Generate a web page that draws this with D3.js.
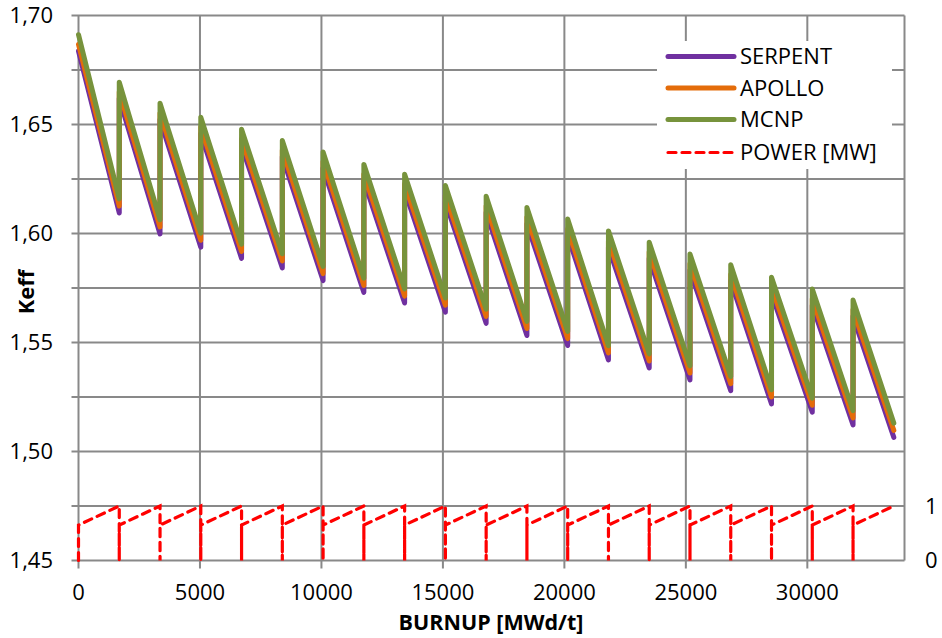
<!DOCTYPE html>
<html>
<head>
<meta charset="utf-8">
<script src="https://cdn.jsdelivr.net/npm/d3@7"></script>
<style>
  html, body { margin: 0; padding: 0; background: #fff; }
  svg { display: block; font-family: "Open Sans", "Noto Sans", sans-serif; }
</style>
</head>
<body>
<svg id="chart" width="942" height="638"></svg>
<script>
// Burnup at each cycle boundary (MWd/t)
const cycleEdges = [0, 1678, 3356, 5034, 6712, 8390, 10068, 11746, 13424, 15102,
  16780, 18458, 20136, 21814, 23492, 25170, 26848, 28526, 30204, 31882, 33560];

// Keff at beginning (BOC) and end (EOC) of each cycle
const serpentBOC = [1.6837, 1.6619, 1.6522, 1.6458, 1.6403, 1.6352, 1.6299, 1.6242, 1.6197, 1.6145,
  1.6096, 1.6044, 1.5991, 1.5937, 1.5885, 1.5831, 1.5782, 1.5724, 1.5670, 1.5620];
const serpentEOC = [1.6094, 1.5998, 1.5937, 1.5886, 1.5842, 1.5784, 1.5730, 1.5681, 1.5639, 1.5588,
  1.5532, 1.5486, 1.5420, 1.5383, 1.5328, 1.5279, 1.5218, 1.5180, 1.5122, 1.5065];
const apolloBOC = [1.6867, 1.6649, 1.6552, 1.6488, 1.6433, 1.6382, 1.6329, 1.6272, 1.6227, 1.6175,
  1.6126, 1.6074, 1.6021, 1.5967, 1.5915, 1.5861, 1.5812, 1.5754, 1.5700, 1.5650];
const apolloEOC = [1.6126, 1.6030, 1.5969, 1.5918, 1.5874, 1.5816, 1.5762, 1.5713, 1.5671, 1.5620,
  1.5564, 1.5518, 1.5452, 1.5415, 1.5360, 1.5311, 1.5250, 1.5212, 1.5154, 1.5097];
const mcnpBOC = [1.6912, 1.6694, 1.6597, 1.6533, 1.6478, 1.6427, 1.6374, 1.6317, 1.6272, 1.6220,
  1.6171, 1.6119, 1.6066, 1.6012, 1.5960, 1.5906, 1.5857, 1.5799, 1.5745, 1.5695];
const mcnpEOC = [1.6159, 1.6063, 1.6002, 1.5951, 1.5907, 1.5849, 1.5795, 1.5746, 1.5704, 1.5653,
  1.5597, 1.5551, 1.5485, 1.5448, 1.5393, 1.5344, 1.5283, 1.5245, 1.5187, 1.5130];

// Relative power at the start and end of each cycle (secondary axis)
const powerBOC = [0.65, 0.65, 0.65, 0.65, 0.65, 0.65, 0.65, 0.65, 0.65, 0.65,
  0.65, 0.65, 0.65, 0.65, 0.65, 0.65, 0.65, 0.65, 0.65, 0.65];
const powerEOC = [1, 1, 1, 1, 1, 1, 1, 1, 1, 1, 1, 1, 1, 1, 1, 1, 1, 1, 1, 1];

const seriesNames = ["SERPENT", "APOLLO", "MCNP", "POWER [MW]"];
const seriesColors = ["#7030A0", "#E46C0A", "#77933C", "#FF0000"];

const xTicks = [0, 5000, 10000, 15000, 20000, 25000, 30000];
const yGrid = [1.45, 1.475, 1.50, 1.525, 1.55, 1.575, 1.60, 1.625, 1.65, 1.675, 1.70];
const yTicks = [1.45, 1.50, 1.55, 1.60, 1.65, 1.70];
const y2Ticks = [0, 1];

const svg = d3.select("#chart");
const plotL = 78.5, plotR = 904.5, plotT = 15.5, plotB = 560.5;

const x = d3.scaleLinear().domain([0, 34000]).range([plotL, plotR]);
const y = d3.scaleLinear().domain([1.45, 1.70]).range([plotB, plotT]);
const y2 = d3.scaleLinear().domain([0, 10]).range([plotB, plotT]);

const gridColor = "#898989";
const fontSize = 22;

// Gridlines (with short outside tick extensions)
const grid = svg.append("g");
grid.selectAll("line.h").data(yGrid).join("line")
  .attr("x1", plotL - 7).attr("x2", plotR)
  .attr("y1", d => y(d)).attr("y2", d => y(d))
  .attr("stroke", gridColor).attr("stroke-width", 2);
grid.selectAll("line.v").data(xTicks).join("line")
  .attr("x1", d => x(d)).attr("x2", d => x(d))
  .attr("y1", plotT).attr("y2", plotB + 8)
  .attr("stroke", gridColor).attr("stroke-width", 2);
grid.append("line")
  .attr("x1", plotR).attr("x2", plotR).attr("y1", plotT).attr("y2", plotB)
  .attr("stroke", gridColor).attr("stroke-width", 2);

// Axis labels
const fmt = d => d3.format(".2f")(d).replace(".", ",");
svg.append("g").selectAll("text").data(yTicks).join("text")
  .attr("x", 53).attr("y", d => y(d)).attr("dy", "0.35em")
  .attr("text-anchor", "end").attr("font-size", fontSize).attr("fill", "#000")
  .text(fmt);
svg.append("g").selectAll("text").data(xTicks).join("text")
  .attr("x", d => x(d)).attr("y", 600)
  .attr("text-anchor", "middle").attr("font-size", fontSize).attr("fill", "#000")
  .text(d => d);
svg.append("g").selectAll("text").data(y2Ticks).join("text")
  .attr("x", 925).attr("y", d => y2(d)).attr("dy", "0.35em")
  .attr("text-anchor", "start").attr("font-size", fontSize).attr("fill", "#000")
  .text(d => d);

svg.append("text")
  .attr("x", 491).attr("y", 630).attr("text-anchor", "middle")
  .attr("font-size", 21.5).attr("font-weight", "bold").text("BURNUP [MWd/t]");
svg.append("text")
  .attr("transform", "translate(34,292) rotate(-90)").attr("text-anchor", "middle")
  .attr("font-size", fontSize).attr("font-weight", "bold").text("Keff");

// Build sawtooth point lists from the cycle tables
function sawtooth(boc, eoc) {
  const pts = [];
  boc.forEach((v, i) => {
    pts.push([cycleEdges[i], v]);
    pts.push([cycleEdges[i + 1], eoc[i]]);
  });
  return pts;
}
function powerProfile() {
  const pts = [[0, 0]];
  powerBOC.forEach((v, i) => {
    pts.push([cycleEdges[i], v]);
    pts.push([cycleEdges[i + 1], powerEOC[i]]);
    if (i < powerBOC.length - 1) pts.push([cycleEdges[i + 1], 0]);
  });
  return pts;
}

const line = d3.line().x(d => x(d[0])).y(d => y(d[1]));
const line2 = d3.line().x(d => x(d[0])).y(d => y2(d[1]));

// Power (dashed, secondary axis)
svg.append("path").datum(powerProfile())
  .attr("d", line2).attr("fill", "none")
  .attr("stroke", seriesColors[3]).attr("stroke-width", 3.2)
  .attr("stroke-dasharray", "8,6").attr("stroke-linecap", "round");

// Keff series
const keff = [[serpentBOC, serpentEOC], [apolloBOC, apolloEOC], [mcnpBOC, mcnpEOC]];
keff.forEach(([b, e], i) => {
  svg.append("path").datum(sawtooth(b, e))
    .attr("d", line).attr("fill", "none")
    .attr("stroke", seriesColors[i]).attr("stroke-width", 5)
    .attr("stroke-linejoin", "round").attr("stroke-linecap", "round");
});

// Legend
const lg = svg.append("g");
lg.append("rect").attr("x", 657).attr("y", 41).attr("width", 235).attr("height", 128).attr("fill", "#fff");
const rowY = [56.5, 88, 119.5, 152.5];
seriesNames.forEach((name, i) => {
  const l = lg.append("line")
    .attr("x1", 668).attr("x2", 734).attr("y1", rowY[i]).attr("y2", rowY[i])
    .attr("stroke", seriesColors[i]).attr("stroke-linecap", "round");
  if (i === 3) l.attr("stroke-width", 3.2).attr("stroke-dasharray", "8,6");
  else l.attr("stroke-width", 5);
  lg.append("text").attr("x", 740).attr("y", rowY[i]).attr("dy", "0.36em")
    .attr("font-size", fontSize).attr("fill", "#000").text(name);
});
</script>
</body>
</html>
